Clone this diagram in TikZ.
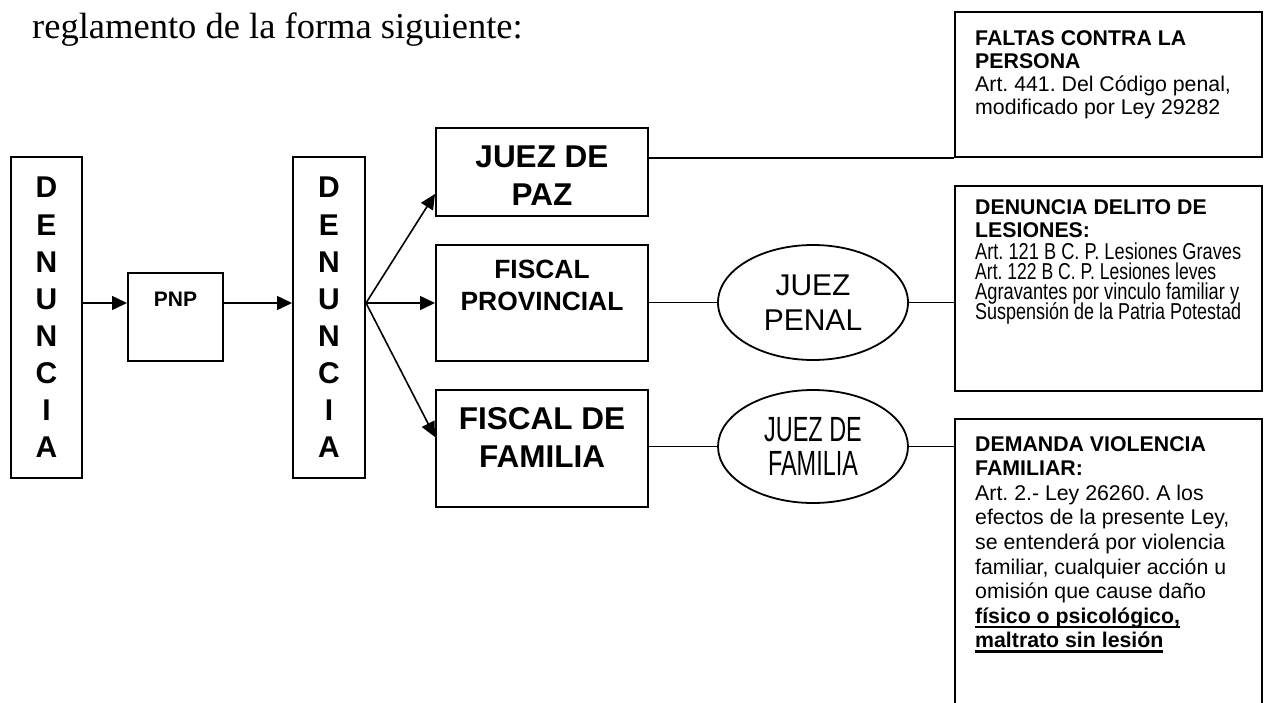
\documentclass[tikz,border=0pt]{standalone}
\usepackage{fontspec}
\usepackage{graphicx}
\setmainfont{Liberation Sans}
\newfontfamily\serifT{Liberation Serif}
\newfontfamily\condf[FakeStretch=0.67]{Liberation Sans}
\usetikzlibrary{arrows.meta,shapes.geometric}
\newcommand\myul[1]{\setbox0\hbox{#1}\rlap{\rule[-5pt]{\wd0}{2.7pt}}\box0}
\newcommand\tightls{\lineskiplimit-100pt\relax}
\newcommand\fitw[2]{\setbox0\hbox{\fontsize{23}{20}\selectfont #2}\pgfmathsetmacro\fitratio{#1/\the\wd0}\scalebox{\fitratio}[1]{\box0}}
\begin{document}
\frenchspacing
\begin{tikzpicture}[x=1pt,y=-1pt,
  box/.style={draw, line width=2pt, rectangle, inner sep=0pt},
  oval/.style={draw, line width=1.8pt, ellipse, inner sep=0pt, align=center},
  conn/.style={line width=1.6pt},
  arr/.style={conn,-{Triangle[length=15pt,width=14pt]}},
  vert/.style={font={\bfseries\fontsize{30}{37.1}\selectfont\tightls}, align=center},
  bigb/.style={font={\bfseries\fontsize{31.5}{38}\selectfont\tightls}, align=center},
  midb/.style={font={\bfseries\fontsize{26.4}{32}\selectfont\tightls}, align=center},
  smb/.style={font={\bfseries\fontsize{21}{24}\selectfont}, align=center},
  notes/.style={inner sep=0pt, align=left, anchor=north west},
]
\useasboundingbox (0,0) rectangle (1264,702);

\node[anchor=base west, inner sep=0pt, font={\serifT\fontsize{36.5}{40}\selectfont}] (title) at (32,38) {reglamento de la forma siguiente:};

% left column
\node[box, vert, minimum width=71, minimum height=321] (den1) at (46.5,317.5) {D\\E\\N\\U\\N\\C\\I\\A};
\node[box, minimum width=95, minimum height=88,
  label={[smb, anchor=center, yshift=-27pt]north:PNP}] (pnp) at (175.5,317) {};
\node[box, vert, minimum width=72, minimum height=321] (den2) at (329,317.5) {D\\E\\N\\U\\N\\C\\I\\A};

% middle column
\node[box, minimum width=212, minimum height=88,
  label={[bigb, anchor=center, yshift=-49pt]north:JUEZ DE\\PAZ}] (paz) at (542,172) {};
\node[box, minimum width=212, minimum height=116,
  label={[midb, anchor=center, yshift=-41pt]north:FISCAL\\PROVINCIAL}] (fprov) at (542,303) {};
\node[box, minimum width=212, minimum height=117,
  label={[bigb, anchor=center, yshift=-48pt]north:FISCAL DE\\FAMILIA}] (ffam) at (542,448.5) {};

% ellipses
\node[oval, minimum width=190, minimum height=115, font={\fontsize{30}{35}\selectfont\tightls}] (jpen) at (813,302.5) {JUEZ\\PENAL};
\node[oval, minimum width=190, minimum height=113, font={\condf\fontsize{35}{34}\selectfont\tightls}] (jfam) at (813,446.5) {JUEZ DE\\FAMILIA};

% right column
\node[box, minimum width=307, minimum height=145,
  label={[notes, font={\fontsize{21.3}{23.3}\selectfont\tightls}, xshift=21pt, yshift=-19pt]north west:{\bfseries FALTAS CONTRA LA}\\{\bfseries PERSONA}\\Art. 441. Del Código penal,\\modificado por Ley 29282}] (faltas) at (1108.5,84.5) {};

\node[box, minimum width=307, minimum height=205,
  label={[notes, font={\fontsize{21.3}{23}\selectfont\tightls}, xshift=21pt, yshift=-14pt]north west:{\bfseries DENUNCIA DELITO DE}\\{\bfseries LESIONES:}\\[-1pt]\fitw{266}{Art. 121 B C. P. Lesiones Graves}\\[-3pt]\fitw{241}{Art. 122 B C. P. Lesiones leves}\\[-3pt]\fitw{264}{Agravantes por vinculo familiar y}\\[-3pt]\fitw{266}{Suspensión de la Patria Potestad}}] (lesiones) at (1108.5,288.5) {};

\node[box, minimum width=307, minimum height=320,
  label={[notes, font={\fontsize{21.3}{24.6}\selectfont\tightls}, xshift=21pt, yshift=-18pt]north west:{\bfseries DEMANDA VIOLENCIA}\\{\bfseries FAMILIAR:}\\Art. 2.- Ley 26260. A los\\efectos de la presente Ley,\\se entenderá por violencia\\familiar, cualquier acción u\\omisión que cause daño\\{\bfseries\myul{físico o psicológico,}}\\{\bfseries\myul{maltrato sin lesión}}}] (demanda) at (1108.5,579) {};

% helper coordinates
\coordinate (row) at (0,303);
\coordinate (fan) at (den2.east |- row);
\coordinate (tpaz) at (0,194);
\coordinate (tfam) at (0,437);

% connectors
\draw[arr] (den1.east |- row) -- (pnp.west |- row);
\draw[arr] (pnp.east |- row) -- (den2.west |- row);
\draw[arr] (fan) -- (paz.west |- tpaz);
\draw[arr] (fan) -- (fprov.west |- row);
\draw[arr] (fan) -- (ffam.west |- tfam);

\draw[conn] (paz.east |- faltas.south west) -- (faltas.south west);
\draw[conn] (fprov.east |- jpen.west) -- (jpen.west);
\draw[conn] (jpen.east) -- (lesiones.west |- jpen.east);
\draw[conn] (ffam.east |- jfam.west) -- (jfam.west);
\draw[conn] (jfam.east) -- (demanda.west |- jfam.east);
\end{tikzpicture}
\end{document}
